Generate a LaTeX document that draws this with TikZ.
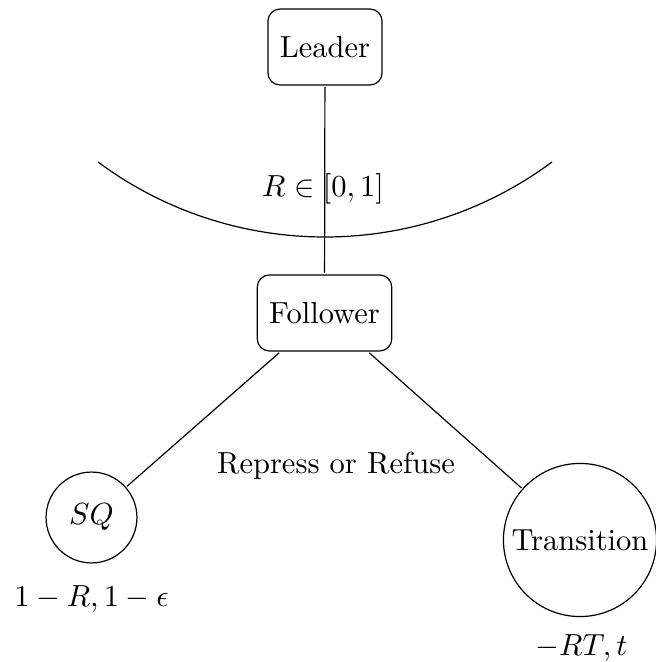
\documentclass[tikz,border=0pt]{standalone}
\begin{document}
\begin{tikzpicture}[x=1pt,y=1pt,line width=1.2pt,
  every node/.style={scale=3.05},
  playerbox/.style={draw,rounded corners=12pt,minimum height=24.9pt,inner xsep=3.9pt},
  outcome/.style={draw,circle,inner sep=0pt},
  payoff/.style={anchor=base}]
\useasboundingbox (0,0) rectangle (656,662);
\node[playerbox] (leader) at (325,615) {Leader};
\node[playerbox] (follower) at (324.5,349) {Follower};
\node[outcome,minimum size=29.8pt] (sq) at (91.5,144.5) {$SQ$};
\node[outcome,minimum size=50.2pt] (trans) at (580,122) {Transition};
\node[payoff] (rlabel) at (323,465) {$R\in[0,1]$};
\node[payoff] (choice) at (336,188) {Repress or Refuse};
\node[payoff] (sqpay) at (91.5,56) {$1-R,1-\epsilon$};
\node[payoff] (trpay) at (581.5,7) {$-RT,t$};
\coordinate (arcstart) at (98,500);
\draw (leader) -- (follower);
\draw (follower) -- (sq);
\draw (follower) -- (trans);
\draw (arcstart) arc[start angle=233.43,end angle=306.57,radius=381pt];
\end{tikzpicture}
\end{document}
